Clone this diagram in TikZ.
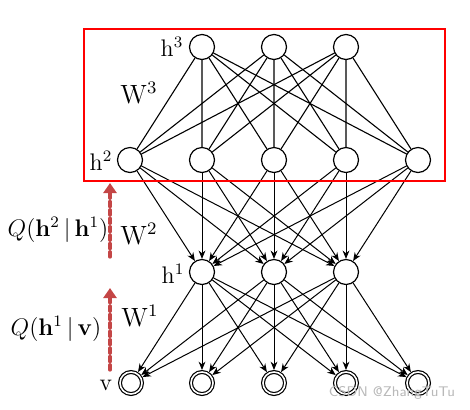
\documentclass[tikz,border=0pt]{standalone}
\usepackage{amsmath,amssymb}
\usepackage{tikz}
\usetikzlibrary{arrows.meta}
\usepackage{xcolor}
\definecolor{qred}{RGB}{196,70,70}

\begin{document}
\begin{tikzpicture}[x=0.5pt,y=-0.5pt,>={Stealth[length=4.2pt,width=3.4pt]},font=\large,line cap=round,
  unit/.style={circle,draw,line width=0.6pt,minimum size=12.5pt,inner sep=0pt},
  visunit/.style={circle,draw,double,line width=0.6pt,double distance=0.8pt,minimum size=11pt,inner sep=0pt,outer sep=1pt},
  qarrow/.style={qred,line width=1.6pt,dash pattern=on 2.6pt off 1.6pt,-{Triangle[length=5pt,width=6.5pt]}}]
\useasboundingbox (0,0) rectangle (470,409);
% layers
\node[unit] (h3a) at (202,47) {};
\node[unit] (h3b) at (274,47) {};
\node[unit] (h3c) at (346,47) {};
\node[unit] (h2a) at (130,160) {};
\node[unit] (h2b) at (202,160) {};
\node[unit] (h2c) at (274,160) {};
\node[unit] (h2d) at (346,160) {};
\node[unit] (h2e) at (418,160) {};
\node[unit] (h1a) at (202,272) {};
\node[unit] (h1b) at (274,272) {};
\node[unit] (h1c) at (346,272) {};
\node[visunit] (va) at (131,383) {};
\node[visunit] (vb) at (202,383) {};
\node[visunit] (vc) at (274,383) {};
\node[visunit] (vd) at (346,383) {};
\node[visunit] (ve) at (418,383) {};
% top RBM, undirected
\draw[line width=0.55pt] (h3a) -- (h2a) (h3a) -- (h2b) (h3a) -- (h2c) (h3a) -- (h2d) (h3a) -- (h2e);
\draw[line width=0.55pt] (h3b) -- (h2a) (h3b) -- (h2b) (h3b) -- (h2c) (h3b) -- (h2d) (h3b) -- (h2e);
\draw[line width=0.55pt] (h3c) -- (h2a) (h3c) -- (h2b) (h3c) -- (h2c) (h3c) -- (h2d) (h3c) -- (h2e);
% directed layers
\draw[->,line width=0.5pt] (h2a) edge (h1a) edge (h1b) edge (h1c);
\draw[->,line width=0.5pt] (h2b) edge (h1a) edge (h1b) edge (h1c);
\draw[->,line width=0.5pt] (h2c) edge (h1a) edge (h1b) edge (h1c);
\draw[->,line width=0.5pt] (h2d) edge (h1a) edge (h1b) edge (h1c);
\draw[->,line width=0.5pt] (h2e) edge (h1a) edge (h1b) edge (h1c);
\draw[->,line width=0.5pt] (h1a) edge (va) edge (vb) edge (vc) edge (vd) edge (ve);
\draw[->,line width=0.5pt] (h1b) edge (va) edge (vb) edge (vc) edge (vd) edge (ve);
\draw[->,line width=0.5pt] (h1c) edge (va) edge (vb) edge (vc) edge (vd) edge (ve);
% labels
\node (lh3) at (172,47) {$\mathrm{h}^3$};
\node (lh2) at (101,161) {$\mathrm{h}^2$};
\node (lh1) at (173,274) {$\mathrm{h}^1$};
\node (lv) at (106,385) {$\mathrm{v}$};
\node[scale=1.1] (lw3) at (139,93) {$\mathrm{W}^3$};
\node[scale=1.1] (lw2) at (139,234) {$\mathrm{W}^2$};
\node[scale=1.1] (lw1) at (140,316) {$\mathrm{W}^1$};
\node (lq2) at (58,230) {$Q(\mathbf{h}^2\,|\,\mathbf{h}^1)$};
\node (lq1) at (56,329) {$Q(\mathbf{h}^1\,|\,\mathbf{v})$};
% box and recognition arrows
\draw[red,line width=1pt] (84,29) rectangle (445,181);
\coordinate (q2s) at (110,257);
\coordinate (q2e) at (110,183);
\coordinate (q1s) at (110,370);
\coordinate (q1e) at (110,288);
\draw[qarrow] (q2s) -- (q2e);
\draw[qarrow] (q1s) -- (q1e);
\node[text=gray!55,font=\sffamily\scriptsize] (mark) at (392,393) {CSDN @ZhangTuTu};
\end{tikzpicture}
\end{document}
